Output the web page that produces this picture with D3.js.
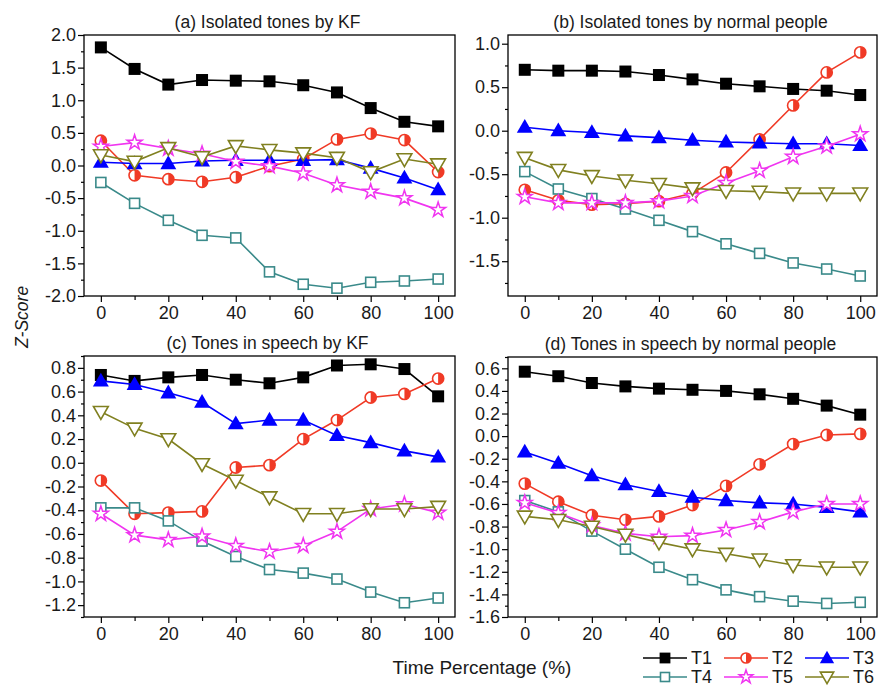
<!DOCTYPE html>
<html>
<head>
<meta charset="utf-8">
<script src="https://cdn.jsdelivr.net/npm/d3@7"></script>
<style>
  html, body { margin: 0; padding: 0; background: #fff; }
  svg { display: block; font-family: Arial, "Liberation Sans", sans-serif; }
</style>
</head>
<body>
<svg id="chart" width="882" height="688"></svg>
<script>
// ---------------- DATA ----------------
const timePercent = [0, 10, 20, 30, 40, 50, 60, 70, 80, 90, 100];
const seriesNames = ["T1", "T2", "T3", "T4", "T5", "T6"];
const panelTitles = [
  "(a) Isolated tones by KF",
  "(b) Isolated tones by normal people",
  "(c) Tones in speech by KF",
  "(d) Tones in speech by normal people"
];
const xTickLabels = [0, 20, 40, 60, 80, 100];

// (a) Isolated tones by KF
const isolatedKF_T1 = [1.81, 1.48, 1.24, 1.31, 1.30, 1.29, 1.23, 1.12, 0.88, 0.67, 0.60];
const isolatedKF_T2 = [0.38, -0.15, -0.21, -0.25, -0.18, -0.01, 0.10, 0.40, 0.49, 0.39, -0.10];
const isolatedKF_T3 = [0.05, 0.03, 0.03, 0.07, 0.08, 0.08, 0.08, 0.09, -0.04, -0.19, -0.37];
const isolatedKF_T4 = [-0.26, -0.58, -0.84, -1.07, -1.11, -1.63, -1.82, -1.88, -1.79, -1.77, -1.74];
const isolatedKF_T5 = [0.29, 0.35, 0.26, 0.18, 0.06, -0.01, -0.12, -0.30, -0.40, -0.50, -0.68];
const isolatedKF_T6 = [0.16, 0.06, 0.27, 0.13, 0.30, 0.24, 0.19, 0.12, -0.10, 0.10, 0.02];

// (b) Isolated tones by normal people
const isolatedNP_T1 = [0.70, 0.69, 0.69, 0.68, 0.64, 0.59, 0.54, 0.51, 0.48, 0.46, 0.41];
const isolatedNP_T2 = [-0.68, -0.80, -0.85, -0.84, -0.81, -0.72, -0.48, -0.10, 0.29, 0.67, 0.90];
const isolatedNP_T3 = [0.04, 0.00, -0.02, -0.06, -0.08, -0.11, -0.13, -0.14, -0.15, -0.15, -0.17];
const isolatedNP_T4 = [-0.47, -0.67, -0.78, -0.90, -1.03, -1.16, -1.30, -1.41, -1.52, -1.59, -1.67];
const isolatedNP_T5 = [-0.76, -0.83, -0.83, -0.83, -0.81, -0.75, -0.60, -0.46, -0.30, -0.18, -0.04];
const isolatedNP_T6 = [-0.31, -0.45, -0.52, -0.57, -0.61, -0.66, -0.69, -0.70, -0.72, -0.72, -0.72];

// (c) Tones in speech by KF
const speechKF_T1 = [0.74, 0.69, 0.72, 0.74, 0.70, 0.67, 0.72, 0.82, 0.83, 0.79, 0.56];
const speechKF_T2 = [-0.15, -0.43, -0.42, -0.41, -0.04, -0.02, 0.20, 0.36, 0.55, 0.58, 0.71];
const speechKF_T3 = [0.69, 0.66, 0.59, 0.51, 0.33, 0.36, 0.36, 0.23, 0.17, 0.10, 0.05];
const speechKF_T4 = [-0.38, -0.38, -0.49, -0.66, -0.79, -0.90, -0.93, -0.98, -1.09, -1.18, -1.14];
const speechKF_T5 = [-0.43, -0.61, -0.65, -0.62, -0.70, -0.75, -0.70, -0.58, -0.39, -0.35, -0.42];
const speechKF_T6 = [0.43, 0.29, 0.20, -0.01, -0.15, -0.29, -0.43, -0.43, -0.39, -0.39, -0.37];

// (d) Tones in speech by normal people
const speechNP_T1 = [0.57, 0.53, 0.47, 0.44, 0.42, 0.41, 0.40, 0.37, 0.33, 0.27, 0.19];
const speechNP_T2 = [-0.42, -0.58, -0.70, -0.74, -0.71, -0.61, -0.44, -0.25, -0.07, 0.01, 0.02];
const speechNP_T3 = [-0.14, -0.24, -0.35, -0.43, -0.49, -0.54, -0.57, -0.59, -0.60, -0.63, -0.67];
const speechNP_T4 = [-0.57, -0.67, -0.84, -1.00, -1.16, -1.27, -1.36, -1.42, -1.46, -1.48, -1.47];
const speechNP_T5 = [-0.59, -0.68, -0.79, -0.86, -0.89, -0.88, -0.83, -0.76, -0.67, -0.60, -0.60];
const speechNP_T6 = [-0.71, -0.74, -0.80, -0.87, -0.94, -1.00, -1.04, -1.09, -1.14, -1.16, -1.16];

const panelA = [isolatedKF_T1, isolatedKF_T2, isolatedKF_T3, isolatedKF_T4, isolatedKF_T5, isolatedKF_T6];
const panelB = [isolatedNP_T1, isolatedNP_T2, isolatedNP_T3, isolatedNP_T4, isolatedNP_T5, isolatedNP_T6];
const panelC = [speechKF_T1, speechKF_T2, speechKF_T3, speechKF_T4, speechKF_T5, speechKF_T6];
const panelD = [speechNP_T1, speechNP_T2, speechNP_T3, speechNP_T4, speechNP_T5, speechNP_T6];

// ---------------- STYLE ----------------
const colors = ["#000000", "#f03a26", "#0000ff", "#3a8a8a", "#f035f0", "#808020"];

const svg = d3.select("#chart");

function rng(lo, hi, step) {
  const n = Math.round((hi - lo) / step);
  return d3.range(n + 1).map(i => Math.round((lo + i * step) * 1000) / 1000);
}
const fmt = v => (Math.round(v * 10) / 10).toFixed(1);

const panels = [
  { title: panelTitles[0], data: panelA, left: 84, right: 455, top: 35, bottom: 296, ydom: [-2, 2],
    major: rng(-2, 2, 0.5), minor: rng(-1.75, 1.75, 0.5), titleY: 28 },
  { title: panelTitles[1], data: panelB, left: 508, right: 877, top: 35, bottom: 296, ydom: [-1.9, 1.1],
    major: rng(-1.5, 1.0, 0.5), minor: rng(-1.75, 0.75, 0.5), titleY: 28 },
  { title: panelTitles[2], data: panelC, left: 84, right: 455, top: 356, bottom: 617, ydom: [-1.3, 0.9],
    major: rng(-1.2, 0.8, 0.2), minor: rng(-1.3, 0.9, 0.2), titleY: 349 },
  { title: panelTitles[3], data: panelD, left: 508, right: 877, top: 357, bottom: 617, ydom: [-1.6, 0.7],
    major: rng(-1.6, 0.6, 0.2), minor: rng(-1.5, 0.7, 0.2), titleY: 350 }
];

function drawMarker(g, i, cx, cy, scale) {
  const s = scale || 1;
  const c = colors[i];
  const m = g.append("g").attr("transform", `translate(${cx},${cy})`);
  if (i === 0) {
    m.append("rect").attr("x", -6 * s).attr("y", -6 * s).attr("width", 12 * s).attr("height", 12 * s)
      .attr("fill", c);
  } else if (i === 1) {
    const r = 5.6 * s;
    m.append("circle").attr("r", r).attr("fill", "#fff").attr("stroke", c).attr("stroke-width", 1.6);
    m.append("path").attr("d", `M0,${-r} A${r},${r} 0 0 1 0,${r} Z`).attr("fill", c);
  } else if (i === 2) {
    m.append("path").attr("d", d3.symbol(d3.symbolTriangle, 110 * s * s)()).attr("fill", c)
      .attr("transform", "translate(0,1)");
  } else if (i === 3) {
    m.append("rect").attr("x", -5 * s).attr("y", -5 * s).attr("width", 10 * s).attr("height", 10 * s)
      .attr("fill", "#fff").attr("stroke", c).attr("stroke-width", 1.6);
  } else if (i === 4) {
    m.append("path").attr("d", d3.symbol(d3.symbolStar, 70 * s * s)()).attr("fill", "#fff")
      .attr("stroke", c).attr("stroke-width", 1.5);
  } else if (i === 5) {
    m.append("path").attr("d", d3.symbol(d3.symbolTriangle, 95 * s * s)()).attr("fill", "#fff")
      .attr("stroke", c).attr("stroke-width", 1.6).attr("transform", "rotate(180) translate(0,1)");
  }
}

panels.forEach(p => {
  const x = d3.scaleLinear().domain([-5, 105]).range([p.left, p.right]);
  const y = d3.scaleLinear().domain(p.ydom).range([p.bottom, p.top]);
  const g = svg.append("g");

  // title
  g.append("text").attr("x", (p.left + p.right) / 2 - 2).attr("y", p.titleY)
    .attr("text-anchor", "middle").attr("font-size", 17.5).attr("fill", "#1a1a1a").text(p.title);

  // y axis major
  const ya = g.append("g").attr("transform", `translate(${p.left},0)`)
    .call(d3.axisLeft(y).tickValues(p.major).tickSize(6).tickPadding(2).tickFormat(fmt));
  ya.select(".domain").remove();
  ya.selectAll("text").attr("font-size", 18).attr("fill", "#1a1a1a");
  ya.selectAll("line").attr("stroke", "#000").attr("stroke-width", 1.2);
  const ym = g.append("g").attr("transform", `translate(${p.left},0)`)
    .call(d3.axisLeft(y).tickValues(p.minor).tickSize(3).tickFormat(""));
  ym.select(".domain").remove();
  ym.selectAll("line").attr("stroke", "#000").attr("stroke-width", 1.2);

  // x axis
  const xa = g.append("g").attr("transform", `translate(0,${p.bottom})`)
    .call(d3.axisBottom(x).tickValues(xTickLabels).tickSize(6).tickPadding(4).tickFormat(d3.format("d")));
  xa.select(".domain").remove();
  xa.selectAll("text").attr("font-size", 18).attr("fill", "#1a1a1a");
  xa.selectAll("line").attr("stroke", "#000").attr("stroke-width", 1.2);
  const xm = g.append("g").attr("transform", `translate(0,${p.bottom})`)
    .call(d3.axisBottom(x).tickValues([10, 30, 50, 70, 90]).tickSize(4).tickFormat(""));
  xm.select(".domain").remove();
  xm.selectAll("line").attr("stroke", "#000").attr("stroke-width", 1.2);

  // series
  const line = d3.line().x((d, j) => x(timePercent[j])).y(d => y(d));
  p.data.forEach((vals, i) => {
    const sg = g.append("g");
    sg.append("path").datum(vals).attr("d", line).attr("fill", "none")
      .attr("stroke", colors[i]).attr("stroke-width", 1.6);
    vals.forEach((v, j) => drawMarker(sg, i, x(timePercent[j]), y(v)));
  });

  // frame
  g.append("rect").attr("x", p.left).attr("y", p.top).attr("width", p.right - p.left)
    .attr("height", p.bottom - p.top).attr("fill", "none").attr("stroke", "#000").attr("stroke-width", 1.3);
});

// axis titles
svg.append("text").attr("transform", "translate(28,317) rotate(-90)").attr("text-anchor", "middle")
  .attr("font-size", 17.5).attr("font-style", "italic").attr("fill", "#1a1a1a").text("Z-Score");
svg.append("text").attr("x", 482).attr("y", 674).attr("text-anchor", "middle")
  .attr("font-size", 19).attr("fill", "#1a1a1a").text("Time Percentage (%)");

// legend
const legendCols = [643, 724, 805];
const legendRows = [658, 677];
seriesNames.forEach((name, i) => {
  const lx = legendCols[i % 3], ly = legendRows[Math.floor(i / 3)];
  const lg = svg.append("g");
  lg.append("line").attr("x1", lx).attr("x2", lx + 44).attr("y1", ly).attr("y2", ly)
    .attr("stroke", colors[i]).attr("stroke-width", 1.6);
  drawMarker(lg, i, lx + 22, ly, 0.9);
  lg.append("text").attr("x", lx + 48).attr("y", ly + 6).attr("font-size", 18).attr("fill", "#1a1a1a").text(name);
});
</script>
</body>
</html>
